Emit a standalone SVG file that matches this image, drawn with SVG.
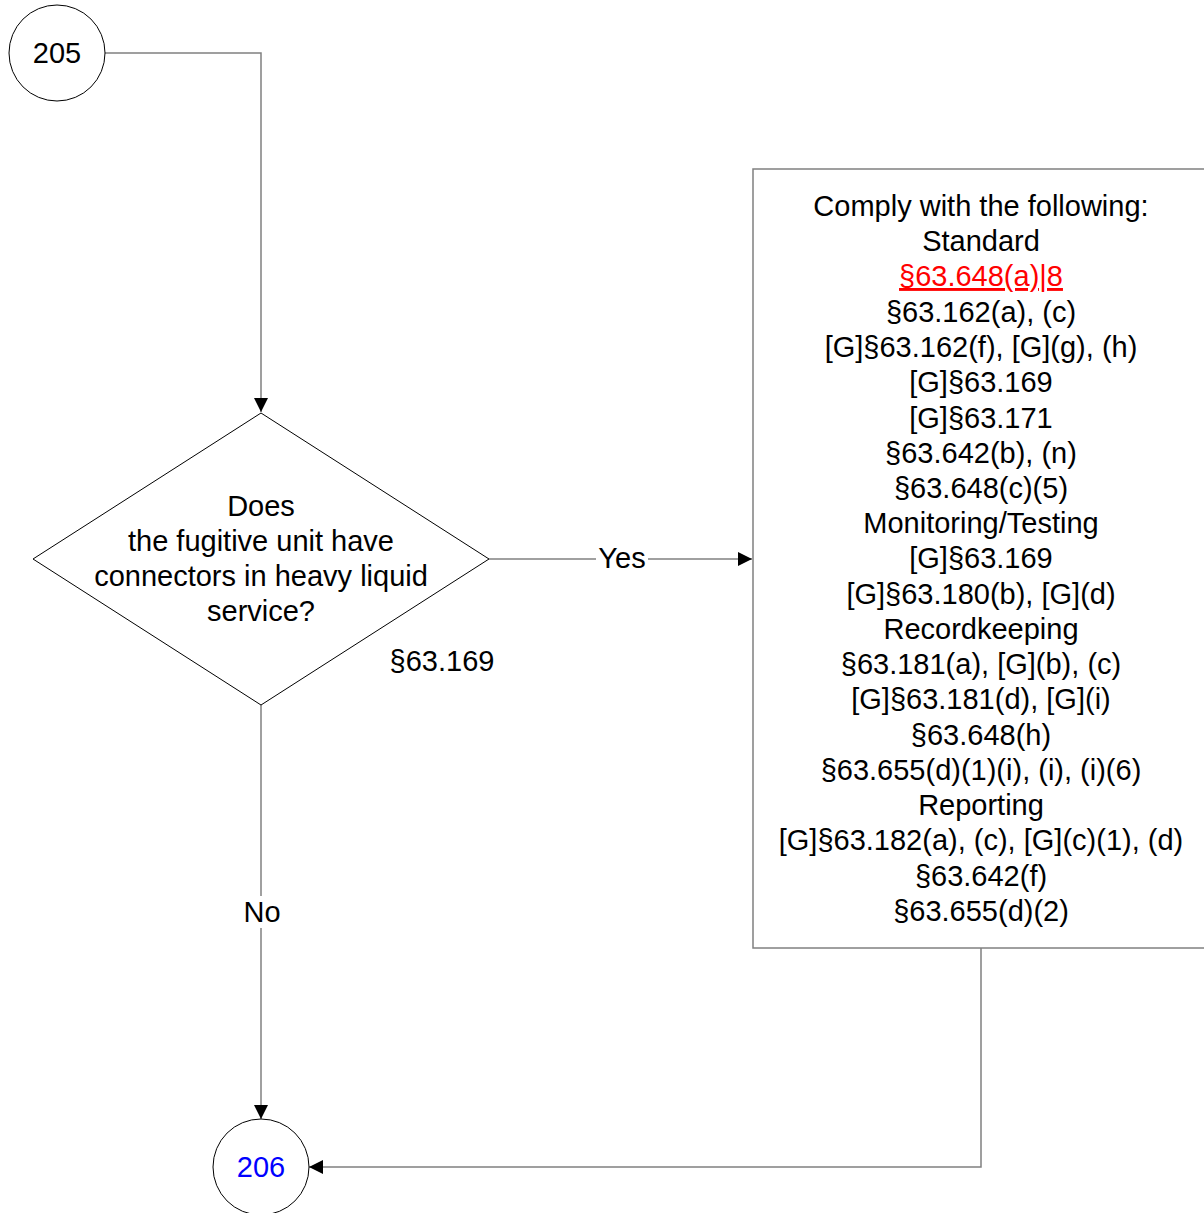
<svg xmlns="http://www.w3.org/2000/svg" width="1204" height="1213" viewBox="0 0 1204 1213">
<style>
text{font-family:"Liberation Sans",Arial,sans-serif;font-size:29px;fill:#000;text-anchor:middle}
.shape{fill:#fff;stroke:#000;stroke-width:1}
.box{fill:#fff;stroke:#808080;stroke-width:1.5}
.conn{fill:none;stroke:#808080;stroke-width:1.5}
.lbl{fill:#fff}
</style>
<defs>
<marker id="arr" markerWidth="14" markerHeight="14" refX="14" refY="7" orient="auto" markerUnits="userSpaceOnUse">
<path d="M0,0 L14,7 L0,14 Z" fill="#000"/>
</marker>
</defs>
<rect width="1204" height="1213" fill="#fff"/>
<g id="connectors">
<path class="conn" d="M105,53 H261 V412" marker-end="url(#arr)"/>
<path class="conn" d="M489,559 H752" marker-end="url(#arr)"/>
<path class="conn" d="M261,705 V1119" marker-end="url(#arr)"/>
<path class="conn" d="M981,948 V1167 H309" marker-end="url(#arr)"/>
<rect class="lbl" x="596" y="544" width="52" height="30"/>
<text x="622" y="568">Yes</text>
<rect class="lbl" x="240" y="896" width="44" height="32"/>
<text x="262" y="922">No</text>
</g>
<g id="n205">
<circle class="shape" cx="57" cy="53" r="48"/>
<text x="57" y="63">205</text>
</g>
<g id="decision">
<polygon class="shape" points="261,413 489,559 261,705 33,559"/>
<text x="261" y="516">Does</text>
<text x="261" y="551">the fugitive unit have</text>
<text x="261" y="586">connectors in heavy liquid</text>
<text x="261" y="621">service?</text>
<text x="442" y="671">§63.169</text>
</g>
<g id="comply">
<rect class="box" x="753" y="169" width="470" height="779"/>
<text x="981" y="216">Comply with the following:</text>
<text x="981" y="251">Standard</text>
<text x="981" y="286" style="fill:#ff0000;text-decoration:underline">§63.648(a)|8</text>
<text x="981" y="322">§63.162(a), (c)</text>
<text x="981" y="357">[G]§63.162(f), [G](g), (h)</text>
<text x="981" y="392">[G]§63.169</text>
<text x="981" y="428">[G]§63.171</text>
<text x="981" y="463">§63.642(b), (n)</text>
<text x="981" y="498">§63.648(c)(5)</text>
<text x="981" y="533">Monitoring/Testing</text>
<text x="981" y="568">[G]§63.169</text>
<text x="981" y="604">[G]§63.180(b), [G](d)</text>
<text x="981" y="639">Recordkeeping</text>
<text x="981" y="674">§63.181(a), [G](b), (c)</text>
<text x="981" y="709">[G]§63.181(d), [G](i)</text>
<text x="981" y="745">§63.648(h)</text>
<text x="981" y="780">§63.655(d)(1)(i), (i), (i)(6)</text>
<text x="981" y="815">Reporting</text>
<text x="981" y="850">[G]§63.182(a), (c), [G](c)(1), (d)</text>
<text x="981" y="886">§63.642(f)</text>
<text x="981" y="921">§63.655(d)(2)</text>
</g>
<g id="n206">
<circle class="shape" cx="261" cy="1167" r="48"/>
<text x="261" y="1177" style="fill:#0000ff">206</text>
</g>
</svg>
